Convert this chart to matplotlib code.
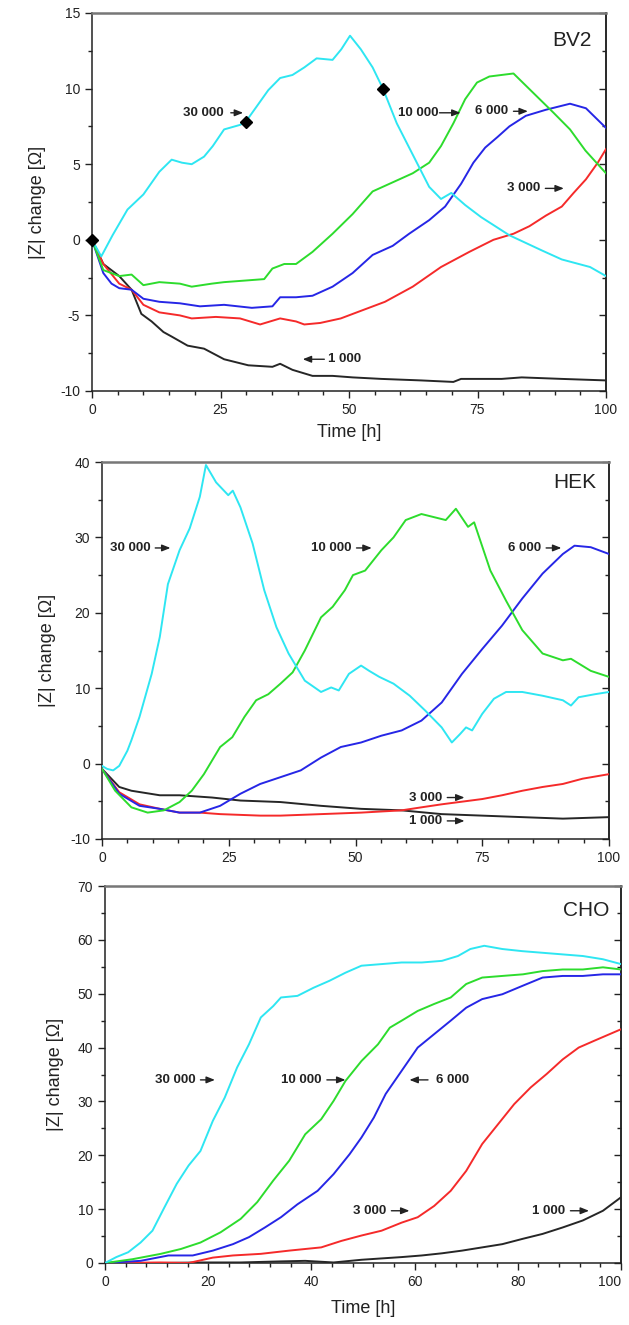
import matplotlib
matplotlib.use("Agg")
import matplotlib.pyplot as plt
from matplotlib.ticker import MultipleLocator

plt.rcParams["font.family"] = ["Liberation Sans", "DejaVu Sans"]
plt.rcParams["axes.unicode_minus"] = False

# ---------------- BV2 ----------------
bv2_30000_t = [0, 1.8, 4.0, 6.9, 10.0, 13.1, 15.5, 17.5, 19.4, 21.8, 23.5, 25.7, 28.8, 29.9, 32.0, 34.3, 36.6,
               39.0, 41.3, 43.7, 46.8, 48.5, 50.2, 52.3, 54.6, 56.6, 59.3, 63.2, 65.6, 67.9, 69.9, 72.6, 75.7,
               81.2, 87.5, 91.4, 96.9, 100]
bv2_30000_z = [0, -1.1, 0.3, 2.0, 3.0, 4.5, 5.3, 5.1, 5.0, 5.5, 6.2, 7.3, 7.6, 7.8, 8.8, 9.9, 10.7,
               10.9, 11.4, 12.0, 11.9, 12.6, 13.5, 12.6, 11.4, 10.0, 7.7, 5.1, 3.5, 2.7, 3.1, 2.3, 1.5,
               0.3, -0.7, -1.3, -1.8, -2.4]
bv2_10000_t = [0, 2.2, 5.3, 7.7, 10.0, 13.1, 17.1, 19.4, 23.3, 25.7, 29.6, 33.5, 35.1, 37.4, 39.7, 42.9, 46.8,
               50.7, 54.6, 58.5, 62.4, 65.6, 67.9, 70.3, 72.6, 74.9, 77.3, 82.0, 85.9, 89.8, 93.0, 96.0, 100]
bv2_10000_z = [0, -2.0, -2.4, -2.3, -3.0, -2.8, -2.9, -3.1, -2.9, -2.8, -2.7, -2.6, -1.9, -1.6, -1.6, -0.8, 0.4,
               1.7, 3.2, 3.8, 4.4, 5.1, 6.2, 7.7, 9.3, 10.4, 10.8, 11.0, 9.7, 8.4, 7.3, 5.9, 4.4]
bv2_6000_t = [0, 2.2, 3.8, 5.3, 7.7, 10.0, 13.1, 17.1, 21.0, 25.7, 31.1, 35.1, 36.6, 39.7, 42.9, 46.8, 50.7,
              54.6, 58.5, 61.7, 65.6, 68.7, 71.8, 74.2, 76.5, 78.9, 81.2, 84.4, 88.3, 93.0, 96.1, 100]
bv2_6000_z = [0, -2.2, -2.9, -3.2, -3.3, -3.9, -4.1, -4.2, -4.4, -4.3, -4.5, -4.4, -3.8, -3.8, -3.7, -3.1, -2.2,
              -1.0, -0.4, 0.4, 1.3, 2.2, 3.7, 5.1, 6.1, 6.8, 7.5, 8.2, 8.6, 9.0, 8.7, 7.4]
bv2_3000_t = [0, 2.2, 5.3, 7.7, 10.0, 13.1, 17.1, 19.4, 24.1, 28.8, 32.7, 36.6, 39.7, 41.3, 44.4, 48.4, 52.3,
              57.0, 62.4, 67.9, 73.4, 78.1, 82.0, 85.1, 88.3, 91.4, 93.7, 96.1, 98.4, 100]
bv2_3000_z = [0, -1.6, -2.9, -3.3, -4.3, -4.8, -5.0, -5.2, -5.1, -5.2, -5.6, -5.2, -5.4, -5.6, -5.5, -5.2, -4.7,
              -4.1, -3.1, -1.8, -0.8, 0.0, 0.4, 0.9, 1.6, 2.2, 3.1, 4.0, 5.1, 6.0]
bv2_1000_t = [0, 2.2, 5.3, 7.7, 9.6, 11.6, 13.9, 15.5, 18.6, 21.8, 25.7, 30.4, 35.1, 36.6, 39.0, 42.9, 46.8,
              50.7, 56.3, 64.0, 70.3, 71.8, 79.7, 83.6, 91.4, 100]
bv2_1000_z = [0, -1.6, -2.4, -3.3, -4.9, -5.4, -6.1, -6.4, -7.0, -7.2, -7.9, -8.3, -8.4, -8.2, -8.6, -9.0, -9.0,
              -9.1, -9.2, -9.3, -9.4, -9.2, -9.2, -9.1, -9.2, -9.3]
bv2_marker_t = [0, 29.9, 56.6]
bv2_marker_z = [0, 7.8, 10.0]

# ---------------- HEK ----------------
hek_30000_t = [0, 1.0, 2.2, 3.4, 5.0, 5.8, 7.4, 9.8, 11.4, 13.0, 15.3, 17.3, 19.3, 20.5, 22.5, 24.9, 25.8,
               27.3, 29.7, 32.0, 34.4, 36.8, 40.0, 43.2, 45.2, 46.7, 48.7, 51.1, 52.7, 54.7, 57.5, 60.7, 63.8,
               67.0, 69.0, 70.6, 71.8, 73.0, 75.0, 77.3, 79.7, 82.9, 86.9, 90.9, 92.5, 94.0, 97.2, 100]
hek_30000_z = [-0.3, -0.7, -0.9, -0.3, 1.7, 3.1, 6.2, 11.9, 16.8, 23.8, 28.3, 31.2, 35.4, 39.6, 37.3, 35.6, 36.2,
               34.0, 29.2, 23.0, 18.1, 14.6, 11.0, 9.5, 10.1, 9.7, 11.9, 13.0, 12.3, 11.5, 10.6, 9.0, 7.0,
               4.8, 2.8, 3.9, 4.8, 4.4, 6.6, 8.6, 9.5, 9.5, 9.0, 8.4, 7.7, 8.8, 9.2, 9.5]
hek_10000_t = [0, 2.6, 5.8, 9.0, 12.2, 15.3, 17.7, 20.1, 23.3, 25.7, 28.1, 30.4, 32.8, 35.2, 37.6, 40.0, 43.2,
               45.5, 47.9, 49.5, 51.9, 55.1, 57.5, 59.9, 63.0, 65.4, 67.8, 69.8, 72.2, 73.4, 76.6, 79.7, 82.9,
               86.9, 90.9, 92.5, 96.4, 100]
hek_10000_z = [-0.7, -3.6, -5.8, -6.5, -6.2, -5.1, -3.6, -1.4, 2.2, 3.5, 6.2, 8.4, 9.2, 10.6, 12.1, 15.0, 19.4,
               20.8, 23.0, 25.0, 25.6, 28.3, 30.0, 32.3, 33.1, 32.7, 32.3, 33.8, 31.4, 32.0, 25.6, 21.6, 17.7,
               14.6, 13.7, 13.9, 12.3, 11.5]
hek_6000_t = [0, 3.4, 7.4, 11.4, 15.3, 19.3, 23.3, 27.3, 31.2, 35.2, 39.2, 43.2, 47.1, 51.1, 55.1, 59.1, 63.0,
              67.0, 71.0, 75.0, 78.9, 82.9, 86.9, 90.9, 93.2, 96.4, 100]
hek_6000_z = [-0.7, -4.0, -5.6, -6.0, -6.5, -6.5, -5.6, -4.0, -2.7, -1.8, -0.9, 0.8, 2.2, 2.8, 3.7, 4.4, 5.7,
              8.1, 11.9, 15.2, 18.3, 21.9, 25.2, 27.8, 28.9, 28.7, 27.8]
hek_3000_t = [0, 3.4, 7.4, 11.4, 15.3, 19.3, 23.3, 31.2, 35.2, 43.2, 51.1, 59.1, 63.0, 67.0, 75.0, 78.9, 82.9,
              86.9, 90.9, 94.8, 100]
hek_3000_z = [-0.7, -3.8, -5.4, -6.0, -6.5, -6.5, -6.7, -6.9, -6.9, -6.7, -6.5, -6.2, -5.8, -5.4, -4.7, -4.2, -3.6,
              -3.1, -2.7, -2.0, -1.4]
hek_1000_t = [0, 3.4, 5.8, 11.4, 15.3, 21.7, 27.3, 35.2, 43.2, 51.1, 59.1, 67.0, 75.0, 82.9, 90.9, 100]
hek_1000_z = [-0.7, -3.1, -3.6, -4.2, -4.2, -4.5, -4.9, -5.1, -5.6, -6.0, -6.2, -6.7, -6.9, -7.1, -7.3, -7.1]

# ---------------- CHO ----------------
cho_30000_t = [0, 2.2, 4.5, 6.9, 9.2, 11.5, 13.9, 16.2, 18.5, 20.9, 23.2, 25.6, 27.9, 30.2, 32.6, 34.1, 37.3,
               40.4, 43.5, 46.6, 49.7, 53.6, 57.5, 61.4, 65.3, 68.4, 70.8, 73.5, 77.0, 80.9, 84.8, 88.7, 92.6,
               96.5, 100]
cho_30000_z = [0, 1.1, 2.0, 3.8, 6.0, 10.3, 14.7, 18.1, 20.8, 26.4, 30.7, 36.3, 40.6, 45.6, 47.7, 49.3, 49.6,
               51.1, 52.4, 53.9, 55.2, 55.5, 55.8, 55.8, 56.1, 57.0, 58.3, 58.9, 58.3, 57.9, 57.6, 57.3, 57.0,
               56.4, 55.5]
cho_10000_t = [0, 5.3, 10.8, 14.7, 18.5, 22.4, 26.3, 29.5, 32.6, 35.7, 38.8, 41.9, 44.3, 46.6, 49.7, 52.9, 55.2,
               57.5, 60.6, 63.8, 67.0, 70.0, 73.1, 77.0, 81.0, 84.8, 88.7, 92.6, 96.5, 100]
cho_10000_z = [0, 0.7, 1.7, 2.6, 3.8, 5.7, 8.2, 11.3, 15.3, 19.0, 23.9, 26.7, 30.1, 33.8, 37.5, 40.6, 43.7,
               45.0, 46.8, 48.1, 49.3, 51.8, 53.0, 53.3, 53.6, 54.2, 54.5, 54.5, 54.9, 54.5]
cho_6000_t = [0, 6.9, 12.3, 17.0, 20.9, 24.8, 27.9, 31.0, 34.1, 37.3, 41.2, 44.3, 47.4, 49.7, 52.1, 54.4, 57.5,
              60.6, 63.8, 67.0, 70.0, 73.1, 77.0, 81.0, 84.8, 88.7, 92.6, 96.5, 100]
cho_6000_z = [0, 0.4, 1.4, 1.4, 2.3, 3.5, 4.8, 6.6, 8.5, 10.9, 13.4, 16.5, 20.2, 23.3, 27.0, 31.4, 35.7,
              40.0, 42.5, 45.0, 47.4, 49.0, 49.9, 51.5, 53.0, 53.3, 53.3, 53.6, 53.6]
cho_3000_t = [0, 10.8, 16.2, 20.9, 24.8, 30.2, 35.7, 41.9, 45.8, 49.7, 53.6, 57.5, 60.6, 63.8, 67.0, 70.0, 73.1,
              76.2, 79.3, 82.5, 85.6, 88.7, 91.8, 94.9, 100]
cho_3000_z = [0, 0.1, 0.0, 1.0, 1.4, 1.7, 2.3, 2.9, 4.1, 5.1, 6.0, 7.5, 8.5, 10.6, 13.4, 17.1, 22.1,
              25.8, 29.5, 32.6, 35.1, 37.8, 40.0, 41.3, 43.4]
cho_1000_t = [0, 10.8, 18.5, 26.3, 34.1, 38.8, 44.3, 49.7, 57.5, 61.4, 65.3, 69.2, 73.1, 77.0, 81.0, 84.8, 88.7,
              92.6, 96.5, 100]
cho_1000_z = [0, 0.0, 0.1, 0.1, 0.3, 0.4, 0.1, 0.6, 1.1, 1.4, 1.8, 2.3, 2.9, 3.5, 4.5, 5.4, 6.6,
              7.9, 9.7, 12.2]

SERIES_COLORS = {"30000": "#2ee6f2", "10000": "#2ddc2d", "6000": "#2626e6", "3000": "#f52a2a", "1000": "#262626"}

fig = plt.figure(figsize=(6.29, 13.25), dpi=100)
W, H = 629.0, 1325.0


def make_axes(left, right, top, bottom):
    return fig.add_axes([left / W, 1 - bottom / H, (right - left) / W, (bottom - top) / H])


def style_axes(ax, xmaj, xmin, ymaj, ymin):
    ax.xaxis.set_major_locator(MultipleLocator(xmaj))
    ax.xaxis.set_minor_locator(MultipleLocator(xmin))
    ax.yaxis.set_major_locator(MultipleLocator(ymaj))
    ax.yaxis.set_minor_locator(MultipleLocator(ymin))
    ax.tick_params(axis="both", which="both", direction="out", left=True, bottom=True,
                   right=False, top=False, labelsize=10, colors="#222222", width=1.0)
    ax.tick_params(which="major", length=5)
    ax.tick_params(which="minor", length=3)
    for s in ["left", "bottom", "right"]:
        ax.spines[s].set_color("#222222")
        ax.spines[s].set_linewidth(1.1)
    ax.spines["top"].set_color("#777777")
    ax.spines["top"].set_linewidth(1.8)
    # inward ticks along the right spine
    sec = ax.secondary_yaxis("right")
    sec.yaxis.set_major_locator(MultipleLocator(ymaj))
    sec.yaxis.set_minor_locator(MultipleLocator(ymin))
    sec.tick_params(which="both", direction="in", labelright=False, width=1.0, colors="#222222")
    sec.tick_params(which="major", length=5)
    sec.tick_params(which="minor", length=3)
    sec.spines["right"].set_color("#222222")
    sec.spines["right"].set_linewidth(1.1)
    ax.set_ylabel("|Z| change [Ω]", fontsize=13, color="#222222", labelpad=10)


def plot_series(ax, data):
    for key, t, z in data:
        ax.plot(t, z, color=SERIES_COLORS[key], lw=1.4, zorder=3)


def arrow_label(ax, text, tx, ty, tail, tip, side="right"):
    ha = "right" if side == "right" else "left"
    ax.text(tx, ty, text, ha=ha, va="center", fontsize=9.5, fontweight="bold", color="#222222", zorder=5)
    ax.annotate("", xy=(tip, ty), xytext=(tail, ty),
                arrowprops=dict(arrowstyle="-|>,head_length=0.5,head_width=0.2", lw=1.0,
                                color="#222222", shrinkA=0, shrinkB=0), zorder=5)


# ---- BV2 panel ----
ax1 = make_axes(92, 606, 13, 391)
ax1.set_xlim(0, 100)
ax1.set_ylim(-10, 15)
style_axes(ax1, 25, 5, 5, 2.5)
plot_series(ax1, [("1000", bv2_1000_t, bv2_1000_z), ("3000", bv2_3000_t, bv2_3000_z),
                  ("6000", bv2_6000_t, bv2_6000_z), ("10000", bv2_10000_t, bv2_10000_z),
                  ("30000", bv2_30000_t, bv2_30000_z)])
ax1.plot(bv2_marker_t, bv2_marker_z, ls="none", marker="D", ms=6, color="black", zorder=6, clip_on=False)
ax1.set_xlabel("Time [h]", fontsize=13, color="#222222", labelpad=5)
ax1.text(97.3, 13.2, "BV2", ha="right", va="center", fontsize=15, color="#222222")
arrow_label(ax1, "30 000", 25.7, 8.4, 27.0, 29.4)
arrow_label(ax1, "10 000", 67.5, 8.4, 67.6, 71.7)
arrow_label(ax1, "6 000", 81.0, 8.5, 82.0, 84.8)
arrow_label(ax1, "3 000", 87.2, 3.4, 88.2, 91.8)
arrow_label(ax1, "1 000", 46.0, -7.9, 45.2, 41.0, side="left")

# ---- HEK panel ----
ax2 = make_axes(102, 609, 462, 839)
ax2.set_xlim(0, 100)
ax2.set_ylim(-10, 40)
style_axes(ax2, 25, 5, 10, 5)
plot_series(ax2, [("1000", hek_1000_t, hek_1000_z), ("3000", hek_3000_t, hek_3000_z),
                  ("6000", hek_6000_t, hek_6000_z), ("10000", hek_10000_t, hek_10000_z),
                  ("30000", hek_30000_t, hek_30000_z)])
ax2.text(97.5, 37.3, "HEK", ha="right", va="center", fontsize=15, color="#222222")
arrow_label(ax2, "30 000", 9.5, 28.6, 10.5, 13.5)
arrow_label(ax2, "10 000", 49.2, 28.6, 50.2, 53.2)
arrow_label(ax2, "6 000", 86.6, 28.6, 87.6, 90.6)
arrow_label(ax2, "3 000", 67.1, -4.5, 68.1, 71.5)
arrow_label(ax2, "1 000", 67.1, -7.6, 68.1, 71.5)

# ---- CHO panel ----
ax3 = make_axes(105, 621, 886, 1263)
ax3.set_xlim(0, 100)
ax3.set_ylim(0, 70)
style_axes(ax3, 20, 4, 10, 5)
plot_series(ax3, [("1000", cho_1000_t, cho_1000_z), ("3000", cho_3000_t, cho_3000_z),
                  ("6000", cho_6000_t, cho_6000_z), ("10000", cho_10000_t, cho_10000_z),
                  ("30000", cho_30000_t, cho_30000_z)])
ax3.set_xlabel("Time [h]", fontsize=13, color="#222222", labelpad=8)
ax3.text(97.7, 65.5, "CHO", ha="right", va="center", fontsize=15, color="#222222")
arrow_label(ax3, "30 000", 17.5, 34.0, 18.5, 21.3)
arrow_label(ax3, "10 000", 42.0, 34.0, 43.0, 46.6)
arrow_label(ax3, "6 000", 64.1, 34.0, 62.6, 59.0, side="left")
arrow_label(ax3, "3 000", 54.5, 9.7, 55.5, 59.0)
arrow_label(ax3, "1 000", 89.2, 9.7, 90.2, 93.8)

# keep the last CHO time label inside the figure edge
fig.canvas.draw()
for tick in ax3.xaxis.get_major_ticks():
    if abs(tick.get_loc() - 100) < 1e-6:
        tick.label1.set_horizontalalignment("right")
        tick.label1.set_x(tick.label1.get_position()[0])

fig.savefig("out.png", dpi=100)
